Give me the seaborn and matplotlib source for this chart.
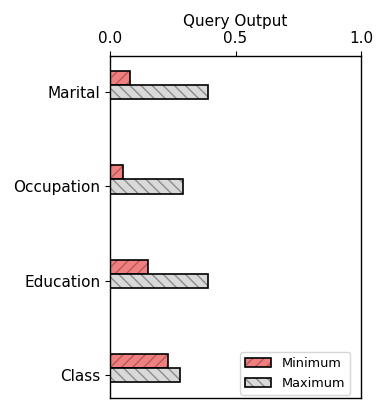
import pandas as pd
import matplotlib.pyplot as plt
import matplotlib.colors as mcolors
from matplotlib.patches import Patch
import seaborn as sns

attributes = ['Marital', 'Occupation', 'Education', 'Class']
minimum = [0.08, 0.05, 0.15, 0.23]
maximum = [0.39, 0.29, 0.39, 0.28]
stats = ['Minimum', 'Maximum']
xticks = [0.0, 0.5, 1.0]

fills = {'Minimum': '#f08080', 'Maximum': '#d9d9d9'}
hatch_cols = {'Minimum': '#b35a5a', 'Maximum': '#8c8c8c'}
hatches = {'Minimum': '///', 'Maximum': '\\\\\\'}

df = pd.DataFrame({
    'Attribute': attributes * 2,
    'Value': minimum + maximum,
    'Stat': ['Minimum'] * len(attributes) + ['Maximum'] * len(attributes),
})

sns.set_style('ticks', {'axes.edgecolor': 'black', 'text.color': 'black',
                        'xtick.color': 'black', 'ytick.color': 'black',
                        'axes.labelcolor': 'black'})
plt.rcParams['font.family'] = ['DejaVu Sans']

fig = plt.figure(figsize=(3.9, 4.18), dpi=100)
ax = fig.add_axes([0.282, 0.048, 0.644, 0.818])

bar_w = 0.3
sns.barplot(data=df, y='Attribute', x='Value', hue='Stat', order=attributes,
            hue_order=stats, orient='h', width=bar_w, dodge=True,
            palette=fills, edgecolor='black', linewidth=1.2, legend=False,
            ax=ax, saturation=1)

# hatch per series, hatch color different from the black outline
for container, s in zip(ax.containers, stats):
    for p in container.patches:
        p.set_hatch(hatches[s])
        p.set_edgecolor('black')
        p._hatch_color = mcolors.to_rgba(hatch_cols[s])

ax.set_xlim(0, 1)
ax.set_xticks(xticks)
ax.set_xticklabels([f'{t:.1f}' for t in xticks], fontsize=11)
ax.xaxis.tick_top()
ax.xaxis.set_label_position('top')
ax.set_xlabel('Query Output', fontsize=11)

ax.set_ylim(3.315, -0.307)
ax.set_yticks([i + bar_w / 4 for i in range(len(attributes))])
ax.set_yticklabels(attributes, fontsize=11)
ax.set_ylabel('')

for side in ['top', 'right', 'bottom', 'left']:
    ax.spines[side].set_visible(True)
    ax.spines[side].set_color('black')
    ax.spines[side].set_linewidth(1.0)

handles = []
for s in stats:
    h = Patch(facecolor=fills[s], edgecolor='black', hatch=hatches[s], linewidth=1.2, label=s)
    handles.append(h)
leg = ax.legend(handles=handles, loc='lower right', bbox_to_anchor=(0.956, 0.009),
                borderaxespad=0, fontsize=9.3)
for h, s in zip(leg.get_patches(), stats):
    h._hatch_color = mcolors.to_rgba(hatch_cols[s])

fig.savefig('out.png', dpi=100)
